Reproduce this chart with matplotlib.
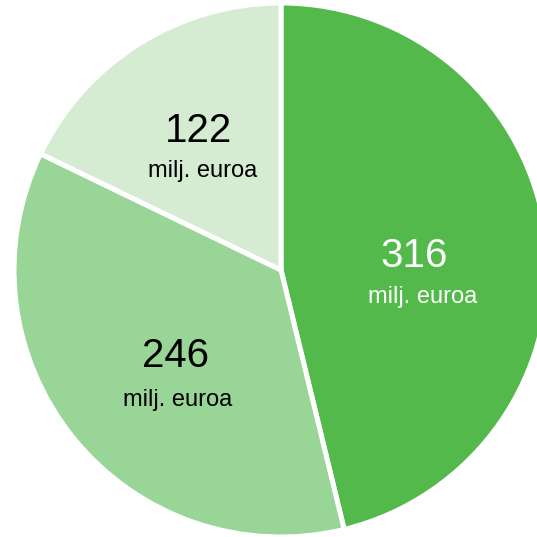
import matplotlib.pyplot as plt

plt.rcParams['font.family'] = ['Liberation Sans', 'DejaVu Sans']

values = [316, 246, 122]
colors = ['#53b94b', '#98d596', '#d5ecd3']
unit = 'milj. euroa'
label_colors = ['white', 'black', 'black']
# label anchor points in pixels (x, baseline of number, baseline of unit)
label_pos = [(414, 267, 303), (175, 367, 406), (199, 142, 177)]
unit_x_shift = [9, 3, 4]

W = H = 537
fig = plt.figure(figsize=(W / 100, H / 100), dpi=100)
ax = fig.add_axes([0, 0, 1, 1])

cx, cy, r = 281, H - 270, 267
ax.pie(values, colors=colors, startangle=90, counterclock=False,
       center=(cx, cy), radius=r,
       wedgeprops=dict(edgecolor='white', linewidth=3.6))

for v, c, (x, yn, yu), dx in zip(values, label_colors, label_pos, unit_x_shift):
    ax.text(x, H - yn, str(v), ha='center', va='baseline', fontsize=29, color=c)
    ax.text(x + dx, H - yu, unit, ha='center', va='baseline', fontsize=17, color=c)

ax.set_xlim(0, W)
ax.set_ylim(0, H)
ax.set_aspect('equal')
ax.axis('off')

fig.savefig('out.png', dpi=100)
